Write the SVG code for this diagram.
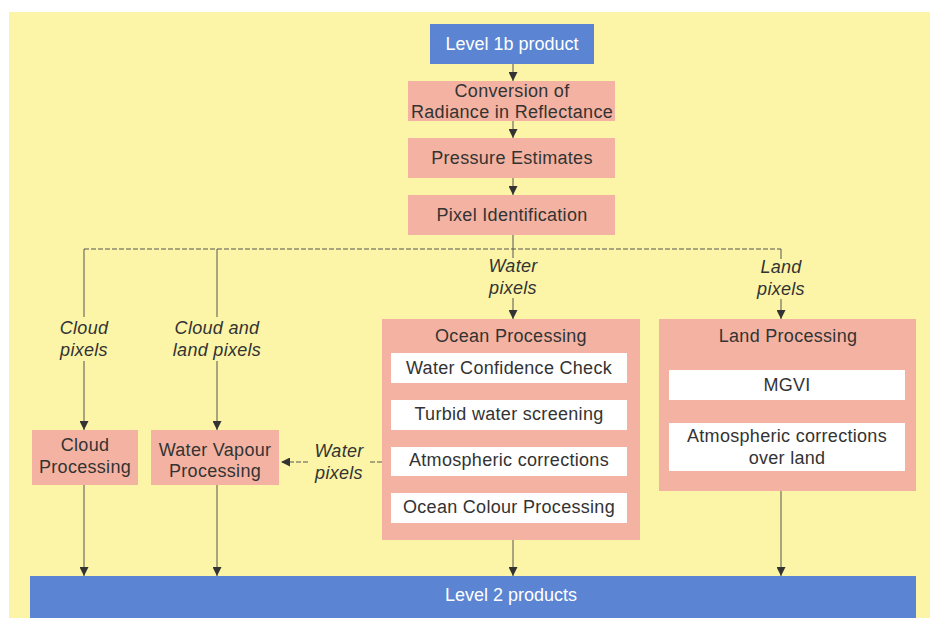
<svg xmlns="http://www.w3.org/2000/svg" width="938" height="618" viewBox="0 0 938 618">
<defs>
<marker id="arr" viewBox="0 0 10 10" refX="10" refY="5" markerWidth="9" markerHeight="9" markerUnits="userSpaceOnUse" orient="auto">
<path d="M0,0 L10,5 L0,10 Z" fill="#333"/>
</marker>
<style>
.bg{fill:#fcf5a8}
.pink{fill:#f4b3a2}
.blue{fill:#5b85d2}
.white{fill:#ffffff}
.t{font-family:"Liberation Sans",Arial,sans-serif;font-size:18px;letter-spacing:0.3px;fill:#333;text-anchor:middle}
.tw{font-family:"Liberation Sans",Arial,sans-serif;font-size:18px;fill:#ffffff;text-anchor:middle}
.ti{font-family:"Liberation Sans",Arial,sans-serif;font-size:18px;letter-spacing:0.3px;font-style:italic;fill:#333;text-anchor:middle}
.ln{stroke:#555;stroke-width:1;fill:none}
.dl{stroke:#555;stroke-width:1;fill:none;stroke-dasharray:5,2}
</style>
</defs>
<rect x="0" y="0" width="938" height="618" fill="#ffffff"/>
<rect class="bg" x="9" y="12" width="921" height="606"/>

<g id="connectors">
<line class="ln" x1="513" y1="64" x2="513" y2="81" marker-end="url(#arr)"/>
<line class="ln" x1="513" y1="121" x2="513" y2="138" marker-end="url(#arr)"/>
<line class="ln" x1="513" y1="178" x2="513" y2="195" marker-end="url(#arr)"/>
<line class="ln" x1="513" y1="235" x2="513" y2="258"/>
<line class="dl" x1="84" y1="249" x2="781" y2="249"/>
<line class="ln" x1="513" y1="298" x2="513" y2="319" marker-end="url(#arr)"/>
<line class="ln" x1="781" y1="249" x2="781" y2="259"/>
<line class="ln" x1="781" y1="299" x2="781" y2="319" marker-end="url(#arr)"/>
<line class="ln" x1="84" y1="249" x2="84" y2="317"/>
<line class="ln" x1="84" y1="361" x2="84" y2="430" marker-end="url(#arr)"/>
<line class="ln" x1="217" y1="249" x2="217" y2="317"/>
<line class="ln" x1="217" y1="361" x2="217" y2="430" marker-end="url(#arr)"/>
<line class="ln" x1="84" y1="485" x2="84" y2="576" marker-end="url(#arr)"/>
<line class="ln" x1="217" y1="485" x2="217" y2="576" marker-end="url(#arr)"/>
<line class="ln" x1="513" y1="540" x2="513" y2="576" marker-end="url(#arr)"/>
<line class="ln" x1="781" y1="491" x2="781" y2="576" marker-end="url(#arr)"/>
<line class="dl" x1="382" y1="462" x2="368" y2="462"/>
<line class="dl" x1="308" y1="462" x2="281" y2="462" marker-end="url(#arr)"/>
<text class="ti" x="513" y="272">Water</text>
<text class="ti" x="513" y="294">pixels</text>
<text class="ti" x="781" y="273">Land</text>
<text class="ti" x="781" y="295">pixels</text>
<text class="ti" x="84" y="334">Cloud</text>
<text class="ti" x="84" y="356">pixels</text>
<text class="ti" x="217" y="334">Cloud and</text>
<text class="ti" x="217" y="356">land pixels</text>
<text class="ti" x="339" y="457">Water</text>
<text class="ti" x="339" y="479">pixels</text>
</g>

<g id="level1b">
<rect class="blue" x="430" y="24" width="164" height="40"/>
<text class="tw" x="512" y="50">Level 1b product</text>
</g>
<g id="conversion">
<rect class="pink" x="408" y="81" width="207" height="40"/>
<text class="t" x="512" y="97">Conversion of</text>
<text class="t" x="512" y="118">Radiance in Reflectance</text>
</g>
<g id="pressure">
<rect class="pink" x="408" y="138" width="207" height="40"/>
<text class="t" x="512" y="164">Pressure Estimates</text>
</g>
<g id="pixelid">
<rect class="pink" x="408" y="195" width="207" height="40"/>
<text class="t" x="512" y="221">Pixel Identification</text>
</g>

<g id="cloud">
<rect class="pink" x="32" y="430" width="106" height="55"/>
<text class="t" x="85" y="451">Cloud</text>
<text class="t" x="85" y="473">Processing</text>
</g>
<g id="watervapour">
<rect class="pink" x="151" y="430" width="128" height="55"/>
<text class="t" x="215" y="456">Water Vapour</text>
<text class="t" x="215" y="477">Processing</text>
</g>

<g id="ocean">
<rect class="pink" x="382" y="319" width="258" height="221"/>
<text class="t" x="511" y="342">Ocean Processing</text>
<rect class="white" x="391" y="353" width="236" height="30"/>
<text class="t" x="509" y="374">Water Confidence Check</text>
<rect class="white" x="391" y="400" width="236" height="30"/>
<text class="t" x="509" y="420">Turbid water screening</text>
<rect class="white" x="391" y="447" width="236" height="29"/>
<text class="t" x="509" y="466">Atmospheric corrections</text>
<rect class="white" x="391" y="493" width="236" height="30"/>
<text class="t" x="509" y="513">Ocean Colour Processing</text>
</g>

<g id="land">
<rect class="pink" x="659" y="319" width="257" height="172"/>
<text class="t" x="788" y="342">Land Processing</text>
<rect class="white" x="669" y="370" width="236" height="30"/>
<text class="t" x="787" y="391">MGVI</text>
<rect class="white" x="669" y="423" width="236" height="48"/>
<text class="t" x="787" y="442">Atmospheric corrections</text>
<text class="t" x="787" y="464">over land</text>
</g>

<g id="level2">
<rect class="blue" x="30" y="576" width="886" height="42"/>
<text class="tw" x="511" y="601">Level 2 products</text>
</g>
</svg>
